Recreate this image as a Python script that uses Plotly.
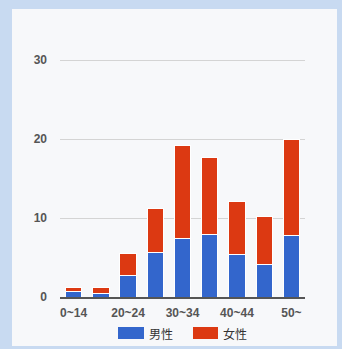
import plotly.graph_objects as go

categories = ["0~14", "15~19", "20~24", "25~29", "30~34", "35~39", "40~44", "45~49", "50~"]
male = [0.7, 0.4, 2.7, 5.65, 7.4, 7.9, 5.4, 4.1, 7.8]
female = [0.5, 0.8, 2.8, 5.5, 11.8, 9.8, 6.65, 6.05, 12.2]
tick_labels = ["0~14", "20~24", "30~34", "40~44", "50~"]
series_names = ["男性", "女性"]
colors = ["#3366cc", "#dc3912"]

W, H = 342, 349
ML, MR, MT, MB = 60, 37, 59, 52
pw, ph = W - ML - MR, H - MT - MB

def px_x(x):
    return (x - ML) / pw

def px_y(y):
    return (H - MB - y) / ph

fig = go.Figure()
for name, vals, c in zip(series_names, [male, female], colors):
    fig.add_trace(go.Bar(x=categories, y=vals, name=name, marker=dict(color=c, line=dict(color="white", width=1)),
                         showlegend=False))

shapes = [
    dict(type="rect", xref="paper", yref="paper", x0=px_x(12), x1=px_x(337), y0=px_y(346), y1=px_y(9),
         fillcolor="#f7f8fa", line=dict(width=0), layer="below"),
]
annotations = []
legend_items = [(118, 144, 147), (193, 218, 221)]
for (x0, x1, tx), name, c in zip(legend_items, series_names, colors):
    shapes.append(dict(type="rect", xref="paper", yref="paper", x0=px_x(x0), x1=px_x(x1),
                       y0=px_y(339), y1=px_y(327), fillcolor=c, line=dict(width=0)))
    annotations.append(dict(xref="paper", yref="paper", x=px_x(tx), y=px_y(333), text=name, showarrow=False,
                            xanchor="left", yanchor="middle",
                            font=dict(family="Noto Sans CJK JP", size=12, color="#333")))

tick_font = dict(family="Arial", size=12, color="#555", weight="bold")
fig.update_layout(
    width=W, height=H, barmode="stack", bargap=0.4,
    margin=dict(l=ML, r=MR, t=MT, b=MB),
    paper_bgcolor="#c8daf1", plot_bgcolor="rgba(0,0,0,0)",
    shapes=shapes, annotations=annotations,
    font=dict(family="Arial", size=12, color="#555"),
    xaxis=dict(tickmode="array", tickvals=tick_labels, ticktext=tick_labels, showgrid=False,
               showline=True, linecolor="#555", linewidth=2, ticks="", ticklabelstandoff=4, tickfont=tick_font),
    yaxis=dict(range=[0, 30.15], tickvals=[0, 10, 20, 30], showgrid=True, gridcolor="#d4d4d4", gridwidth=1,
               zeroline=False, ticks="", ticklabelstandoff=12, tickfont=tick_font),
)
fig.write_html("out.html")
